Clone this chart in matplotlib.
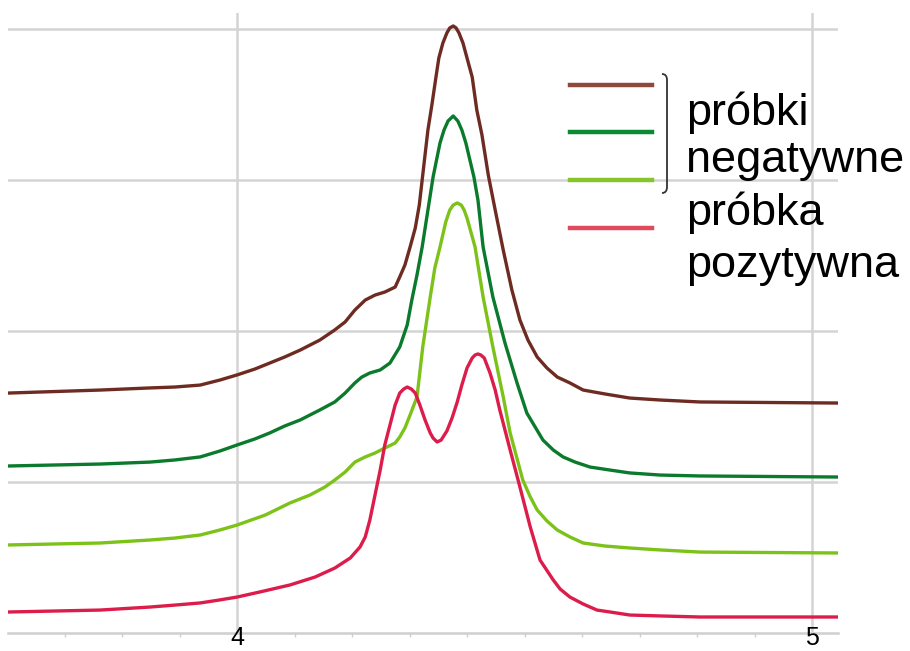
import matplotlib
matplotlib.use("Agg")
import matplotlib.pyplot as plt
from matplotlib.lines import Line2D
from matplotlib.path import Path
from matplotlib.patches import PathPatch

# chemical shift (ppm) and stacked intensities
brown_x = [3.602, 3.762, 3.849, 3.892, 3.936, 3.970, 4.000, 4.031, 4.057, 4.083,
           4.110, 4.144, 4.170, 4.188, 4.205, 4.223, 4.240, 4.257, 4.275, 4.283,
           4.292, 4.301, 4.310, 4.317, 4.322, 4.327, 4.332, 4.339, 4.346, 4.351,
           4.358, 4.365, 4.370, 4.376, 4.381, 4.386, 4.393, 4.400, 4.409, 4.417,
           4.426, 4.437, 4.449, 4.463, 4.478, 4.492, 4.506, 4.522, 4.539, 4.557,
           4.579, 4.602, 4.640, 4.683, 4.736, 4.805, 5.045]
brown_y = [1.589, 1.609, 1.623, 1.629, 1.642, 1.675, 1.709, 1.748, 1.788, 1.828,
           1.874, 1.940, 2.007, 2.060, 2.139, 2.205, 2.238, 2.258, 2.291, 2.358,
           2.437, 2.556, 2.682, 2.834, 3.000, 3.166, 3.331, 3.500, 3.682, 3.808,
           3.907, 3.974, 4.007, 4.020, 4.007, 3.974, 3.907, 3.808, 3.682, 3.464,
           3.298, 3.033, 2.801, 2.536, 2.272, 2.073, 1.940, 1.828, 1.755, 1.695,
           1.656, 1.609, 1.583, 1.556, 1.543, 1.530, 1.523]

dgreen_x = [3.602, 3.762, 3.849, 3.892, 3.936, 3.970, 4.000, 4.031, 4.057, 4.083,
            4.110, 4.144, 4.170, 4.188, 4.205, 4.217, 4.231, 4.249, 4.266, 4.283,
            4.296, 4.304, 4.313, 4.322, 4.332, 4.341, 4.353, 4.360, 4.367, 4.376,
            4.384, 4.391, 4.398, 4.412, 4.419, 4.428, 4.445, 4.466, 4.487, 4.504,
            4.532, 4.550, 4.567, 4.588, 4.614, 4.649, 4.683, 4.736, 4.805, 5.045]
dgreen_y = [1.106, 1.119, 1.132, 1.146, 1.166, 1.205, 1.245, 1.285, 1.325, 1.371,
            1.411, 1.477, 1.530, 1.589, 1.656, 1.695, 1.722, 1.742, 1.788, 1.894,
            2.040, 2.205, 2.371, 2.556, 2.801, 3.020, 3.245, 3.331, 3.391, 3.424,
            3.391, 3.331, 3.245, 3.020, 2.868, 2.556, 2.225, 1.921, 1.656, 1.457,
            1.278, 1.212, 1.166, 1.132, 1.099, 1.079, 1.060, 1.046, 1.040, 1.033]

lgreen_x = [3.602, 3.762, 3.849, 3.892, 3.936, 3.970, 4.000, 4.049, 4.092, 4.127,
            4.153, 4.170, 4.188, 4.205, 4.223, 4.240, 4.257, 4.275, 4.283, 4.292,
            4.301, 4.313, 4.323, 4.336, 4.344, 4.353, 4.363, 4.370, 4.376, 4.383,
            4.390, 4.395, 4.400, 4.414, 4.428, 4.445, 4.463, 4.475, 4.497, 4.510,
            4.522, 4.539, 4.557, 4.579, 4.602, 4.640, 4.683, 4.736, 4.805, 5.045]
lgreen_y = [0.583, 0.596, 0.616, 0.629, 0.649, 0.682, 0.715, 0.781, 0.861, 0.914,
            0.967, 1.013, 1.066, 1.132, 1.166, 1.192, 1.225, 1.258, 1.298, 1.358,
            1.444, 1.563, 1.894, 2.225, 2.417, 2.556, 2.722, 2.801, 2.834, 2.848,
            2.834, 2.801, 2.748, 2.556, 2.225, 1.894, 1.563, 1.325, 1.013, 0.901,
            0.815, 0.742, 0.682, 0.636, 0.596, 0.576, 0.563, 0.550, 0.536, 0.530]

red_x = [3.602, 3.762, 3.849, 3.892, 3.936, 3.970, 4.000, 4.040, 4.092, 4.136,
         4.170, 4.197, 4.214, 4.223, 4.231, 4.240, 4.249, 4.257, 4.266, 4.275,
         4.283, 4.290, 4.296, 4.303, 4.310, 4.318, 4.327, 4.336, 4.341, 4.348,
         4.355, 4.365, 4.374, 4.383, 4.391, 4.400, 4.409, 4.414, 4.419, 4.424,
         4.430, 4.440, 4.449, 4.457, 4.475, 4.492, 4.510, 4.527, 4.550, 4.562,
         4.579, 4.602, 4.626, 4.649, 4.683, 4.736, 4.805, 5.045]
red_y = [0.139, 0.152, 0.172, 0.185, 0.199, 0.219, 0.238, 0.272, 0.318, 0.371,
         0.430, 0.497, 0.570, 0.636, 0.748, 0.914, 1.079, 1.245, 1.377, 1.510,
         1.589, 1.616, 1.629, 1.616, 1.589, 1.510, 1.411, 1.325, 1.291, 1.265,
         1.278, 1.338, 1.424, 1.530, 1.642, 1.755, 1.821, 1.841, 1.848, 1.841,
         1.821, 1.722, 1.609, 1.477, 1.212, 0.967, 0.702, 0.483, 0.351, 0.291,
         0.238, 0.192, 0.152, 0.139, 0.119, 0.113, 0.106, 0.106]

series = [
    (brown_x, brown_y, "#6e2b22"),
    (dgreen_x, dgreen_y, "#0b7a2c"),
    (lgreen_x, lgreen_y, "#7cc219"),
    (red_x, red_y, "#dc1c4a"),
]
legend_colors = ["#8c4a3c", "#0b8a34", "#86c52a", "#e04a5e"]
legend_text = ["próbki", "negatywne", "próbka", "pozytywna"]
xticks = [4, 5]

fig = plt.figure(figsize=(9.1, 6.51), dpi=100)
ax = fig.add_axes([8 / 910, 18 / 651, 830 / 910, 620 / 651])

for xs, ys, c in series:
    ax.plot(xs, ys, color=c, lw=2.4, solid_capstyle="round",
            solid_joinstyle="round", zorder=3)

ax.set_xlim(3.6017, 5.0452)
ax.set_ylim(0, 4.106)
ax.set_yticks([1, 2, 3, 4])
ax.set_xticks(xticks)
ax.set_xticks([x / 10 for x in range(37, 51)], minor=True)
ax.grid(True, which="major", color="#d4d4d4", lw=1.8, zorder=0)
for s in ["top", "right", "left"]:
    ax.spines[s].set_visible(False)
ax.spines["bottom"].set_color("#cfcfcf")
ax.spines["bottom"].set_linewidth(1.8)
ax.spines["bottom"].set_zorder(1)
ax.tick_params(axis="y", left=False, labelleft=False)
ax.tick_params(axis="x", which="major", length=0, pad=-5, labelsize=18,
               colors="black")
ax.tick_params(axis="x", which="minor", length=3, color="#cfcfcf", width=1)
for lab in ax.get_xticklabels():
    lab.set_family("Liberation Sans")

# hand-made legend
leg_y = [85, 132, 180, 228]
for py, c in zip(leg_y, legend_colors):
    fig.add_artist(Line2D([570 / 910, 652 / 910], [1 - py / 651, 1 - py / 651],
                          color=c, lw=3.2))

bx = 667 / 910
verts = [(662 / 910, 1 - 74 / 651), (bx, 1 - 74 / 651), (bx, 1 - 80 / 651),
         (bx, 1 - 187 / 651), (bx, 1 - 193 / 651), (662 / 910, 1 - 193 / 651)]
codes = [Path.MOVETO, Path.CURVE3, Path.CURVE3, Path.LINETO, Path.CURVE3, Path.CURVE3]
fig.add_artist(PathPatch(Path(verts, codes), fc="none", ec="#333333", lw=1.3,
                         transform=fig.transFigure))

text_y = [125, 172, 225, 277]
for py, t in zip(text_y, legend_text):
    fig.text(686 / 910, 1 - py / 651, t, fontsize=32.5, family="Liberation Sans",
             va="baseline", ha="left", color="black")

fig.savefig("out.png", dpi=100)
